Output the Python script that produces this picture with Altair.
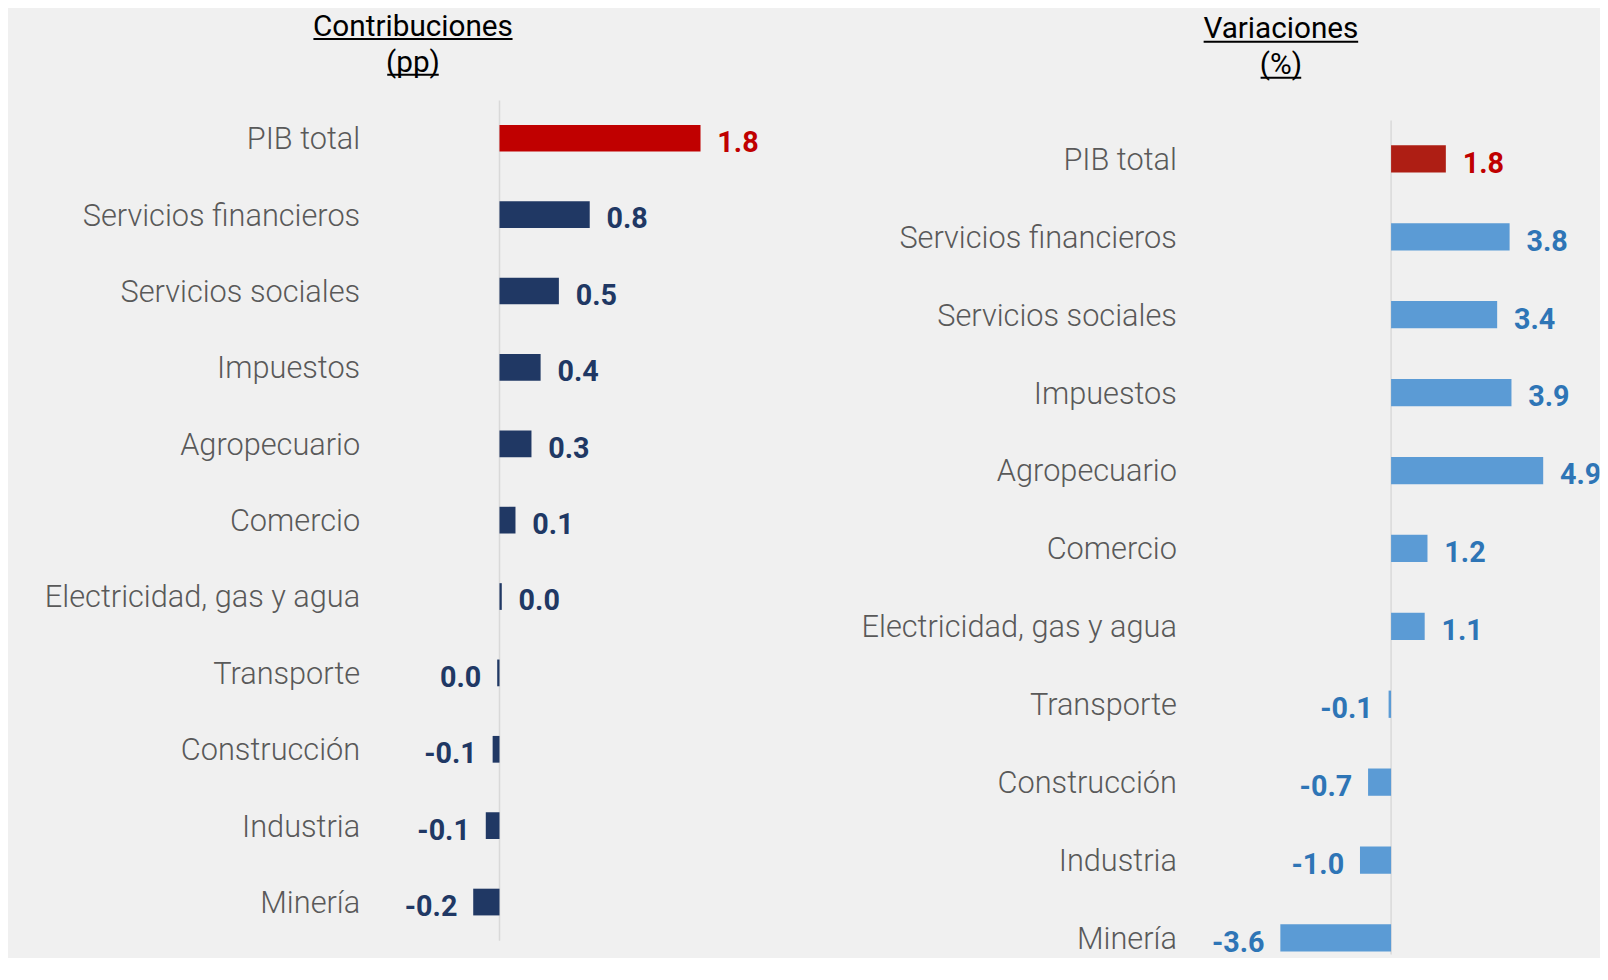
import altair as alt
import pandas as pd

# ---------------- data ----------------
categorias = ["PIB total", "Servicios financieros", "Servicios sociales", "Impuestos",
              "Agropecuario", "Comercio", "Electricidad, gas y agua", "Transporte",
              "Construcción", "Industria", "Minería"]
contribuciones = [1.76, 0.79, 0.52, 0.36, 0.28, 0.14, 0.02, -0.02, -0.06, -0.12, -0.23]
variaciones = [1.76, 3.81, 3.41, 3.87, 4.89, 1.17, 1.08, -0.08, -0.74, -1.00, -3.56]

titulo_izq = ["Contribuciones", "(pp)"]
titulo_der = ["Variaciones", "(%)"]


def etiqueta(v):
    s = f"{v:.1f}"
    return "0.0" if s == "-0.0" else s


df_c = pd.DataFrame({"categoria": categorias, "valor": contribuciones,
                     "etiqueta": [etiqueta(v) for v in contribuciones]})
df_v = pd.DataFrame({"categoria": categorias, "valor": variaciones,
                     "etiqueta": [etiqueta(v) for v in variaciones]})

FONT = "Roboto"


def panel(df, dominio, ancho, alto, y_scale, extent, label_pad,
          c_pib_bar, c_bar, c_pib_txt, c_txt, titulo, titulo_pos, subrayados,
          regla_y):
    xs = alt.Scale(domain=dominio, nice=False)
    x = alt.X("valor:Q", scale=xs, axis=None)
    y = alt.Y("categoria:N", sort=categorias, scale=y_scale,
              axis=alt.Axis(title=None, domain=False, ticks=False, grid=False,
                            labelFont=FONT, labelFontSize=31, labelFontWeight=300,
                            labelColor="#595959", labelPadding=label_pad,
                            labelOffset=2, labelLimit=0,
                            minExtent=extent, maxExtent=extent))
    es_pib = alt.datum.categoria == "PIB total"

    regla = alt.Chart(pd.DataFrame({"cero": [0]})).mark_rule(
        color="#D9D9D9", strokeWidth=1.5).encode(
        x=alt.X("cero:Q", scale=xs, axis=None),
        y=alt.value(regla_y[0]), y2=alt.value(regla_y[1]))

    base = alt.Chart(df)
    barras = base.mark_bar().encode(
        x=x, x2=alt.datum(0), y=y,
        color=alt.condition(es_pib, alt.value(c_pib_bar), alt.value(c_bar)))

    txt_color = alt.condition(es_pib, alt.value(c_pib_txt), alt.value(c_txt))
    pos = base.transform_filter(alt.datum.valor >= 0).mark_text(
        align="left", baseline="alphabetic", dx=17, dy=14, font=FONT,
        fontSize=29, fontWeight="bold", clip=True).encode(
        x=x, y=y, text="etiqueta:N", color=txt_color)
    neg = base.transform_filter(alt.datum.valor < 0).mark_text(
        align="right", baseline="alphabetic", dx=-16, dy=14, font=FONT,
        fontSize=29, fontWeight="bold").encode(
        x=x, y=y, text="etiqueta:N", color=txt_color)

    capas = [regla, barras, pos, neg]
    uno = pd.DataFrame({"u": [0]})
    # header text (two lines) and its underlines
    for linea, (tx, ty) in zip(titulo, titulo_pos):
        capas.append(alt.Chart(uno).mark_text(
            font=FONT, fontSize=30, color="#000000", align="center",
            baseline="alphabetic").encode(
            x=alt.value(tx), y=alt.value(ty), text=alt.value(linea)))
    for (x1, x2, yy) in subrayados:
        capas.append(alt.Chart(uno).mark_rule(
            color="#000000", strokeWidth=2).encode(
            x=alt.value(x1), x2=alt.value(x2), y=alt.value(yy)))

    return alt.layer(*capas).properties(width=ancho, height=alto)


izq = panel(df_c, [-0.4, 2.6], 345.9, 848,
            alt.Scale(paddingInner=0.65, paddingOuter=0.3243, align=0.49,
                      round=False),
            448, 95, "#C00000", "#203864", "#C00000", "#203864",
            titulo_izq, [(-41.2, -65), (-41.2, -28.5)],
            [(-141.7, 59.3, -62.3), (-67.2, -15.2, -26)], (0, 848))

der = panel(df_v, [-5.8, 6.7], 392.5, 862,
            alt.Scale(paddingInner=0.65, paddingOuter=0.3058, align=0.9376,
                      round=False),
            393.5, 34.6, "#AE1E14", "#5B9BD5", "#C00000", "#2E75B6",
            titulo_der, [(70.9, -63), (70.9, -26.5)],
            [(-7.1, 148.9, -59.5), (50.4, 91.4, -23)], (20, 862))

chart = alt.hconcat(izq, der, spacing=24).properties(
    padding={"left": 2, "top": 0, "right": 0, "bottom": -5},
    background="#F0F0F0",
).configure_view(stroke=None)

chart.save("out.html", embed_options={"renderer": "svg", "actions": False})
